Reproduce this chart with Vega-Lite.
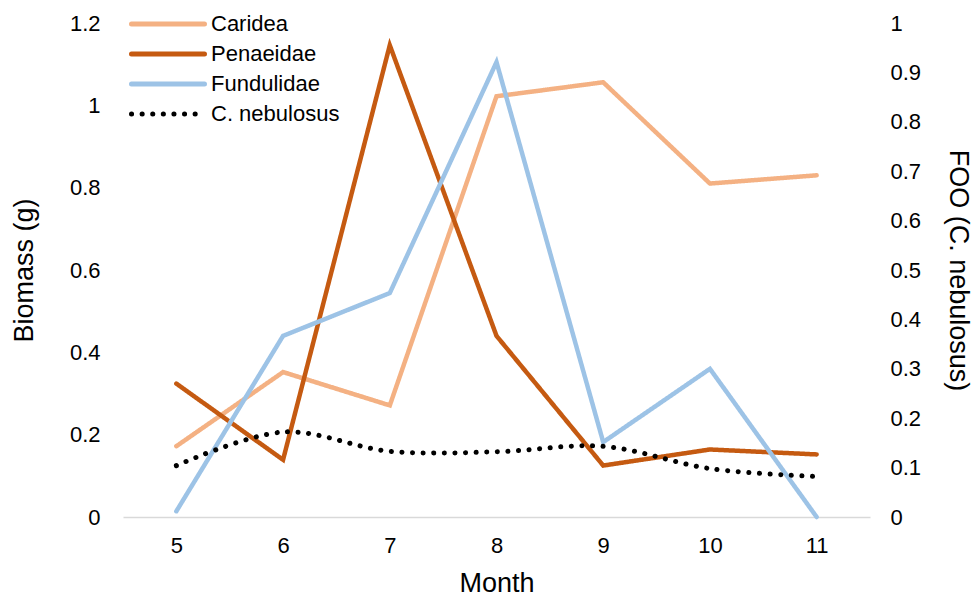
{
  "$schema": "https://vega.github.io/schema/vega-lite/v6.json",
  "width": 747,
  "height": 494,
  "autosize": {"type": "none"},
  "padding": {"left": 123, "top": 23, "right": 109, "bottom": 79},
  "background": "white",
  "config": {
    "view": {"stroke": null},
    "font": "Liberation Sans",
    "axis": {
      "grid": false,
      "ticks": false,
      "domain": false,
      "labelFontSize": 22,
      "titleFontSize": 27,
      "labelColor": "#000",
      "titleColor": "#000",
      "titleFontWeight": "normal"
    },
    "legend": {
      "padding": 0,
      "labelFontSize": 22,
      "labelColor": "#000",
      "symbolType": "stroke",
      "symbolSize": 5329,
      "symbolStrokeWidth": 5,
      "labelOffset": 4,
      "clipHeight": 22,
      "rowPadding": 8
    }
  },
  "data": {
    "values": [
      {"month": 5, "series": "Caridea", "value": 0.172},
      {"month": 6, "series": "Caridea", "value": 0.352},
      {"month": 7, "series": "Caridea", "value": 0.271},
      {"month": 8, "series": "Caridea", "value": 1.022},
      {"month": 9, "series": "Caridea", "value": 1.056},
      {"month": 10, "series": "Caridea", "value": 0.81},
      {"month": 11, "series": "Caridea", "value": 0.83},
      {"month": 5, "series": "Penaeidae", "value": 0.324},
      {"month": 6, "series": "Penaeidae", "value": 0.139},
      {"month": 7, "series": "Penaeidae", "value": 1.146},
      {"month": 8, "series": "Penaeidae", "value": 0.44},
      {"month": 9, "series": "Penaeidae", "value": 0.125},
      {"month": 10, "series": "Penaeidae", "value": 0.164},
      {"month": 11, "series": "Penaeidae", "value": 0.152},
      {"month": 5, "series": "Fundulidae", "value": 0.014},
      {"month": 6, "series": "Fundulidae", "value": 0.44},
      {"month": 7, "series": "Fundulidae", "value": 0.544},
      {"month": 8, "series": "Fundulidae", "value": 1.105},
      {"month": 9, "series": "Fundulidae", "value": 0.182},
      {"month": 10, "series": "Fundulidae", "value": 0.36},
      {"month": 11, "series": "Fundulidae", "value": 0.0},
      {"month": 5, "series": "C. nebulosus", "value": 0.104},
      {"month": 6, "series": "C. nebulosus", "value": 0.172},
      {"month": 7, "series": "C. nebulosus", "value": 0.133},
      {"month": 8, "series": "C. nebulosus", "value": 0.132},
      {"month": 9, "series": "C. nebulosus", "value": 0.143},
      {"month": 10, "series": "C. nebulosus", "value": 0.098},
      {"month": 11, "series": "C. nebulosus", "value": 0.082}
    ]
  },
  "encoding": {
    "x": {
      "field": "month",
      "type": "ordinal",
      "scale": {"type": "point", "padding": 0.5},
      "axis": {
        "title": "Month",
        "titleFontSize": 27,
        "labelAngle": 0,
        "domain": true,
        "domainColor": "#D9D9D9",
        "domainWidth": 1.5,
        "labelPadding": 18,
        "titlePadding": 14
      }
    },
    "color": {
      "field": "series",
      "type": "nominal",
      "scale": {
        "domain": ["Caridea", "Penaeidae", "Fundulidae", "C. nebulosus"],
        "range": ["#F4B183", "#C55A11", "#9DC3E6", "#000000"]
      },
      "legend": {
        "title": null,
        "orient": "none",
        "legendX": 6,
        "legendY": -10,
        "encode": {"symbols": {"update": {"strokeCap": {"value": "round"}}}}
      }
    },
    "strokeDash": {
      "field": "series",
      "type": "nominal",
      "scale": {
        "domain": ["Caridea", "Penaeidae", "Fundulidae", "C. nebulosus"],
        "range": [[1, 0], [1, 0], [1, 0], [0.1, 10.5]]
      },
      "legend": {
        "title": null,
        "orient": "none",
        "legendX": 6,
        "legendY": -10,
        "encode": {"symbols": {"update": {"strokeCap": {"value": "round"}}}}
      }
    }
  },
  "layer": [
    {
      "transform": [{"filter": "datum.series !== 'C. nebulosus'"}],
      "mark": {"type": "line", "strokeWidth": 4.5, "strokeCap": "round"},
      "encoding": {
        "y": {
          "field": "value",
          "type": "quantitative",
          "scale": {"domain": [0, 1.2]},
          "axis": {
            "title": "Biomass (g)",
            "values": [0, 0.2, 0.4, 0.6, 0.8, 1, 1.2],
            "format": "~g",
            "labelPadding": 23,
            "titlePadding": 31
          }
        }
      }
    },
    {
      "transform": [{"filter": "datum.series === 'C. nebulosus'"}],
      "mark": {"type": "line", "strokeWidth": 5, "strokeCap": "round", "interpolate": "catmull-rom"},
      "encoding": {
        "y": {
          "field": "value",
          "type": "quantitative",
          "scale": {"domain": [0, 1]},
          "axis": {
            "orient": "right",
            "title": "FOO (C. nebulosus)",
            "values": [0, 0.1, 0.2, 0.3, 0.4, 0.5, 0.6, 0.7, 0.8, 0.9, 1],
            "format": "~g",
            "labelPadding": 20,
            "titlePadding": 23
          }
        }
      }
    }
  ],
  "resolve": {"scale": {"y": "independent"}}
}
